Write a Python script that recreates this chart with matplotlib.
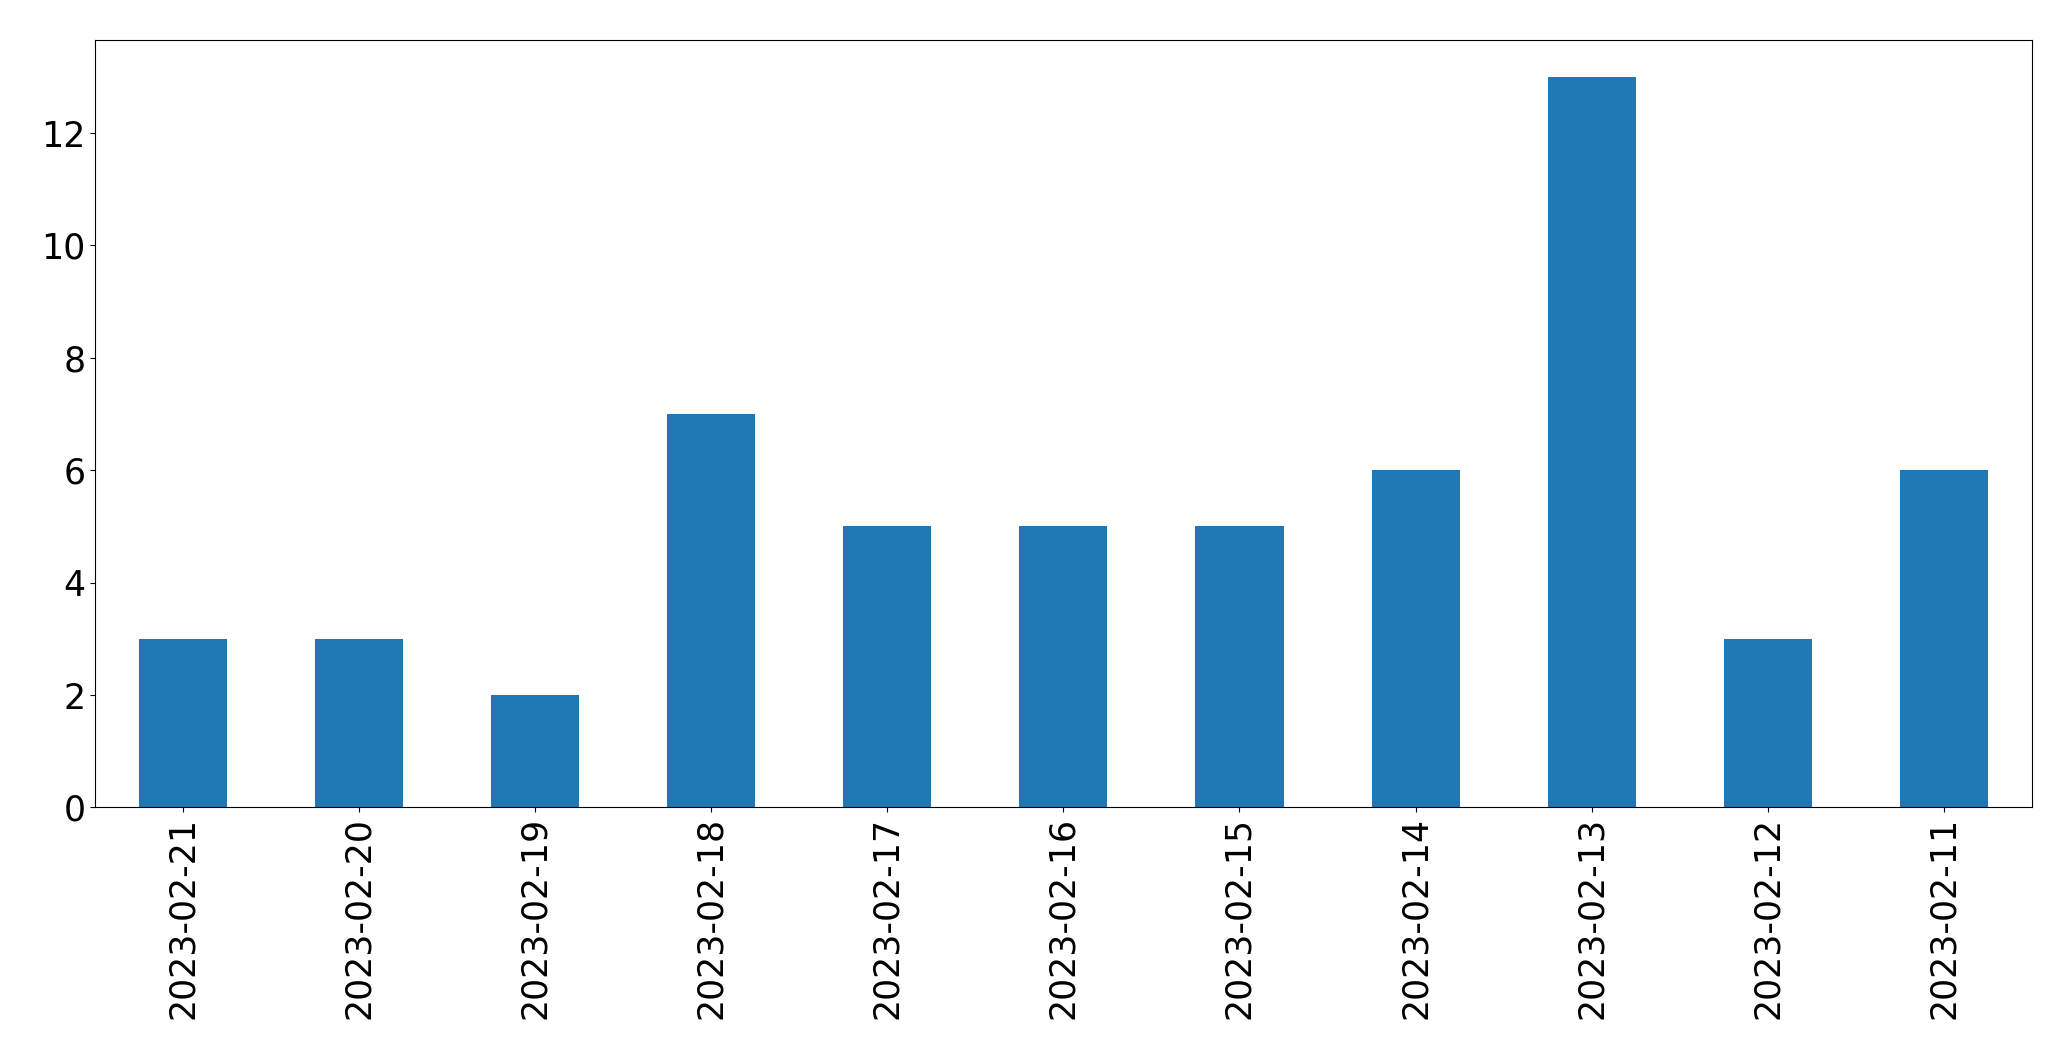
import matplotlib.pyplot as plt

dates = ["2023-02-21", "2023-02-20", "2023-02-19", "2023-02-18", "2023-02-17",
         "2023-02-16", "2023-02-15", "2023-02-14", "2023-02-13", "2023-02-12",
         "2023-02-11"]
counts = [3, 3, 2, 7, 5, 5, 5, 6, 13, 3, 6]

fig, ax = plt.subplots(figsize=(20.71, 10.61), dpi=100)
x = range(len(dates))
ax.bar(x, counts, width=0.5, color="#1f77b4")
ax.set_xticks(list(x))
ax.set_xticklabels(dates, rotation=90)
ax.set_xlim(-0.5, len(dates) - 0.5)
ax.tick_params(labelsize=25)
fig.subplots_adjust(left=0.046, right=0.981, top=0.962, bottom=0.239)
fig.savefig("out.png")
